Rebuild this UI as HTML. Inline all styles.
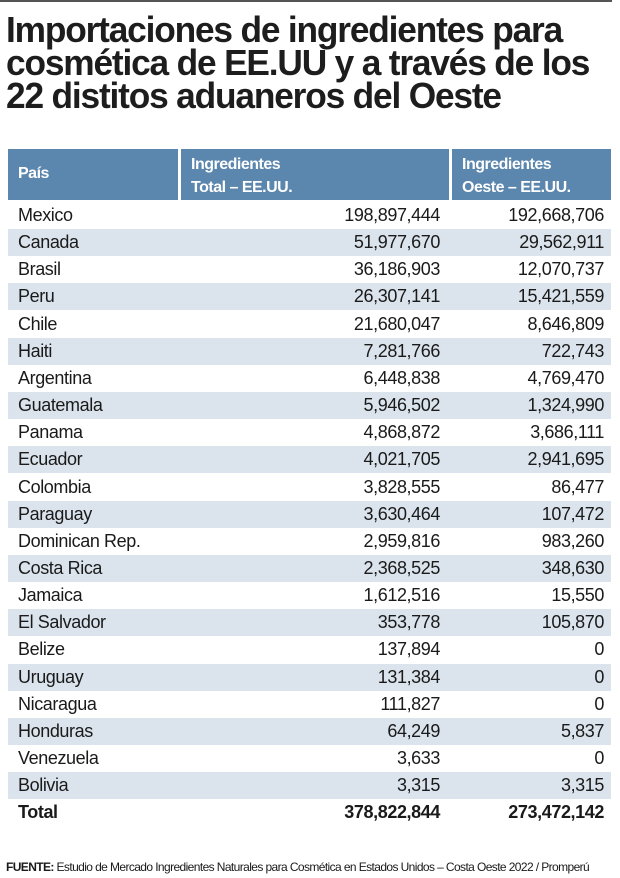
<!DOCTYPE html>
<html><head><meta charset="utf-8">
<style>
body{margin:0;width:620px;height:878px;background:#fff;position:relative;overflow:hidden;font-family:"Liberation Sans",sans-serif;color:#1a1a1a}
.rule{position:absolute;left:0;top:0;width:612px;height:2px;background:#555}
.title{position:absolute;left:6px;top:13px;font-weight:bold;font-size:36px;line-height:33px;letter-spacing:-1.2px;color:#1d1d1d;transform:scaleX(0.98);transform-origin:left top;white-space:nowrap}
.hdr{position:absolute;top:149px;height:51px;background:#5b86ad;color:#fff;font-weight:bold;font-size:16px;letter-spacing:-0.5px}
.row{position:absolute;left:8px;width:603px;height:27px}
.row span{position:absolute;top:3px;font-size:18px;letter-spacing:-0.4px}
.c0{left:10px}.c1{right:171px}.c2{right:7px}
.foot{position:absolute;left:6px;top:860px;font-size:12px;letter-spacing:-0.6px;white-space:nowrap}
</style></head><body>
<div class="rule"></div>
<div class="title">Importaciones de ingredientes para<br>cosmética de EE.UU y a través de los<br>22 distitos aduaneros del Oeste</div>
<div class="hdr" style="left:8px;width:170px"><span style="position:absolute;left:10px;top:16px">País</span></div>
<div class="hdr" style="left:181px;width:268px"><span style="position:absolute;left:10px;top:4px;line-height:23px">Ingredientes<br>Total – EE.UU.</span></div>
<div class="hdr" style="left:452px;width:159px"><span style="position:absolute;left:10px;top:4px;line-height:23px">Ingredientes<br>Oeste – EE.UU.</span></div>
<div id="rows"></div>
<div class="foot"><b>FUENTE:</b> Estudio de Mercado Ingredientes Naturales para Cosmética en Estados Unidos – Costa Oeste 2022 / Promperú</div>
<script>
const countries=["Mexico","Canada","Brasil","Peru","Chile","Haiti","Argentina","Guatemala","Panama","Ecuador","Colombia","Paraguay","Dominican Rep.","Costa Rica","Jamaica","El Salvador","Belize","Uruguay","Nicaragua","Honduras","Venezuela","Bolivia"];
const totalUS=[198897444,51977670,36186903,26307141,21680047,7281766,6448838,5946502,4868872,4021705,3828555,3630464,2959816,2368525,1612516,353778,137894,131384,111827,64249,3633,3315];
const westUS=[192668706,29562911,12070737,15421559,8646809,722743,4769470,1324990,3686111,2941695,86477,107472,983260,348630,15550,105870,0,0,0,5837,0,3315];
const totals=[378822844,273472142];
const fmt=n=>n.toLocaleString('en-US');
const wrap=document.getElementById('rows');
function addRow(i,label,a,b,bold){
  const r=document.createElement('div');
  r.className='row';
  
  
  r.style.top=(202+i*27.15)+'px';
  if(i%2===1)r.style.background='#dbe4ed';
  if(bold)r.style.fontWeight='bold';
  r.innerHTML='<span class="c0">'+label+'</span><span class="c1">'+fmt(a)+'</span><span class="c2">'+fmt(b)+'</span>';
  wrap.appendChild(r);
}
countries.forEach((c,i)=>addRow(i,c,totalUS[i],westUS[i],false));
addRow(countries.length,'Total',totals[0],totals[1],true);
</script>
</body></html>
